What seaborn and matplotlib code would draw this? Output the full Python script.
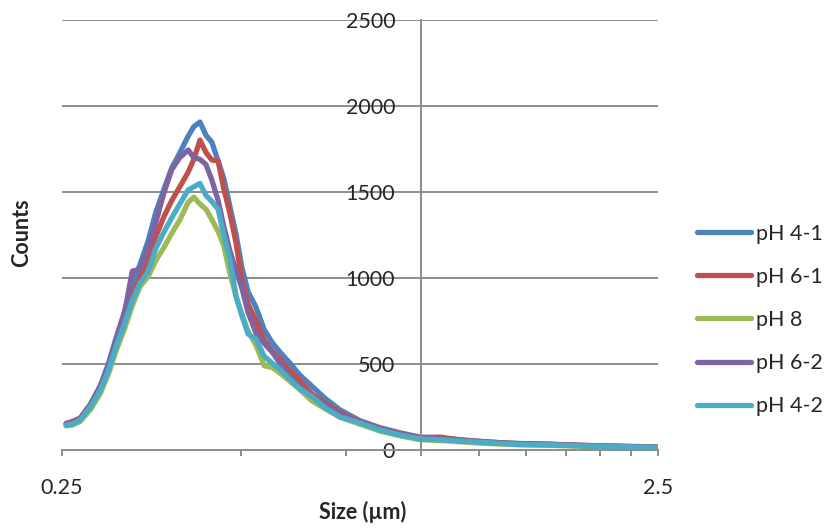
import numpy as np
import pandas as pd
import matplotlib
matplotlib.use("Agg")
import matplotlib.pyplot as plt
import matplotlib.ticker as mticker
import seaborn as sns

# ---- data ----
size_um = [0.254, 0.260, 0.268, 0.279, 0.290, 0.299, 0.308, 0.318, 0.328, 0.338,
           0.349, 0.359, 0.371, 0.382, 0.394, 0.407, 0.416, 0.426, 0.436, 0.446,
           0.457, 0.467, 0.478, 0.490, 0.501, 0.513, 0.529, 0.546, 0.563, 0.580,
           0.603, 0.627, 0.657, 0.691, 0.732, 0.791, 0.854, 0.923, 0.997, 1.077,
           1.163, 1.257, 1.358, 1.467, 1.647, 1.849, 2.077, 2.332, 2.49]

ph41 = [150, 160, 180, 265, 375, 500, 650, 800, 960, 1080,
        1220, 1380, 1520, 1640, 1727, 1825, 1880, 1907, 1830, 1790,
        1680, 1580, 1420, 1250, 1060, 920, 830, 700, 625, 570,
        505, 435, 370, 300, 233, 170, 130, 100, 75, 70,
        60, 50, 43, 38, 34, 28, 23, 20, 18]

ph61 = [155, 165, 185, 265, 370, 480, 620, 760, 900, 1000,
        1120, 1240, 1360, 1450, 1530, 1615, 1690, 1802, 1730, 1686,
        1680, 1520, 1380, 1200, 980, 850, 750, 640, 575, 530,
        460, 400, 325, 270, 215, 165, 125, 95, 72, 75,
        58, 50, 42, 36, 33, 27, 22, 19, 17]

ph8 = [140, 145, 165, 235, 330, 440, 575, 700, 840, 950,
       1010, 1100, 1180, 1260, 1337, 1440, 1470, 1430, 1400, 1340,
       1270, 1190, 1029, 890, 790, 690, 610, 490, 480, 448,
       400, 350, 285, 240, 190, 150, 110, 82, 60, 55,
       48, 40, 35, 30, 27, 22, 18, 15, 14]

ph62 = [150, 160, 180, 260, 370, 490, 640, 790, 1040, 1050,
        1180, 1320, 1500, 1630, 1700, 1744, 1700, 1690, 1660, 1570,
        1450, 1300, 1160, 1040, 940, 800, 680, 620, 570, 506,
        424, 366, 312, 258, 205, 160, 122, 92, 70, 65,
        55, 48, 40, 35, 32, 26, 22, 18, 16]

ph42 = [145, 150, 174, 250, 349, 460, 600, 730, 870, 971,
        1040, 1170, 1270, 1350, 1430, 1512, 1530, 1550, 1480, 1445,
        1400, 1250, 1110, 890, 780, 675, 645, 545, 505, 470,
        410, 355, 310, 245, 192, 157, 116, 87, 64, 60,
        52, 45, 38, 32, 30, 24, 20, 17, 15]

series_names = ["pH 4-1", "pH 6-1", "pH 8", "pH 6-2", "pH 4-2"]
series_vals = [ph41, ph61, ph8, ph62, ph42]
colors = ["#4F81BD", "#C0504D", "#9BBB59", "#8064A2", "#4BACC6"]

xticks = [0.25, 0.5, 0.75, 1.0, 1.25, 1.5, 1.75, 2.0, 2.25, 2.5]
xticklabels = ["0.25", "", "", "", "", "", "", "", "", "2.5"]
yticks = [0, 500, 1000, 1500, 2000, 2500]

df = pd.concat([pd.DataFrame({"Size": size_um, "Counts": v, "Series": n})
                for n, v in zip(series_names, series_vals)], ignore_index=True)

# ---- style ----
sns.set_style("white")
plt.rcParams["font.family"] = ["Lato", "DejaVu Sans"]
FS = 15.5
grid_c = "#8C8C8C"

fig = plt.figure(figsize=(8.32, 5.31), dpi=100)
ax = fig.add_axes([62 / 832, 1 - 450 / 531, (658 - 62) / 832, (450 - 20) / 531])

sns.lineplot(data=df, x="Size", y="Counts", hue="Series", hue_order=series_names,
             palette=colors, linewidth=3.8, ax=ax, legend=False,
             solid_capstyle="round", solid_joinstyle="round")

ax.set_xscale("log")
ax.set_xlim(0.25, 2.5)
ax.set_ylim(0, 2500)
ax.xaxis.set_major_locator(mticker.FixedLocator(xticks))
ax.xaxis.set_minor_locator(mticker.NullLocator())
ax.set_xticklabels(xticklabels)
ax.set_yticks(yticks)
ax.set_yticklabels([str(v) for v in yticks])

for y in yticks[1:]:
    ax.axhline(y, color=grid_c, lw=1.4, zorder=0)

for s in ["top", "right"]:
    ax.spines[s].set_visible(False)
ax.spines["left"].set_position(("data", 1.0))
ax.spines["left"].set_color(grid_c)
ax.spines["left"].set_linewidth(1.4)
ax.spines["bottom"].set_color(grid_c)
ax.spines["bottom"].set_linewidth(1.4)

ax.tick_params(axis="x", direction="out", length=4.5, width=1.4, color=grid_c,
               labelsize=FS, pad=16, bottom=True)
ax.tick_params(axis="y", length=0, labelsize=FS, pad=18.5, left=True)
ax.set_xlabel("")
ax.set_ylabel("")

fig.text(363 / 832, 1 - 512 / 531, "Size (µm)", fontsize=FS, fontweight="bold",
         ha="center", va="center")
fig.text(22 / 832, 1 - 233 / 531, "Counts", fontsize=FS, fontweight="bold",
         ha="center", va="center", rotation=90)

handles = [plt.Line2D([], [], color=c, lw=3.8, solid_capstyle="round") for c in colors]
fig.legend(handles, series_names, loc="center left",
           bbox_to_anchor=(697 / 832, 1 - 320 / 531), frameon=False,
           fontsize=FS, handlelength=2.5, handletextpad=0.25, labelspacing=1.08,
           borderpad=0, borderaxespad=0)

fig.savefig("out.png", dpi=100)
